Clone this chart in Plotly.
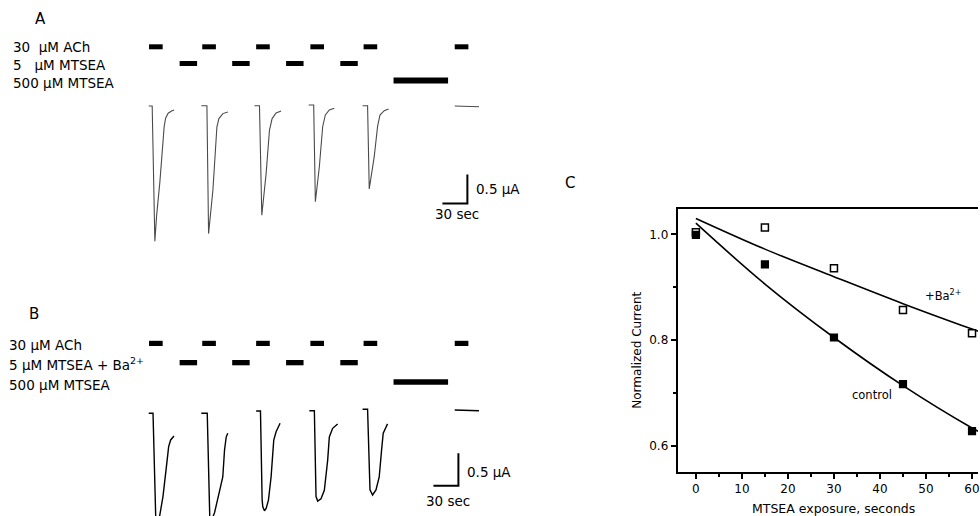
import plotly.graph_objects as go

W, H = 980, 516
FONT = "DejaVu Sans"

# ---------------- Panel C: normalized current vs MTSEA exposure ----------------
exposure_s = [0, 15, 30, 45, 60]
control_current = [0.999, 0.943, 0.805, 0.717, 0.628]
barium_current = [1.004, 1.013, 0.936, 0.857, 0.813]

# exponential fit curves, sampled along the exposure axis
fit_x = [0, 15, 30, 45, 60, 61.3]
control_fit = [1.021, 0.906, 0.805, 0.714, 0.634, 0.628]
barium_fit = [1.030, 0.972, 0.920, 0.869, 0.821, 0.817]

# ---------------- Panels A/B: stimulus protocol (s) ----------------
ach_starts = [-3.8, 60.2, 125.0, 190.2, 254.2, 363.8]
ach_dur = 16.4
mtsea5_starts = [33.0, 96.2, 161.0, 226.2]
mtsea5_dur = 21.0
mtsea500_start = 290.2
mtsea500_dur = 65.6

# ---------------- Panel A: ACh responses, control (µA) ----------------
A_onsets = [0.0, 65.8, 129.0, 194.2, 259.0]
A_times = [
    [-4.2, 0, 3.2, 5.3, 9.2, 13.2, 14.4, 16.1, 19.2, 23.3, 26.4],
    [-6.7, 0, 2.0, 7.2, 12.0, 14.4, 19.2, 25.2],
    [-6.0, 0, 2.8, 8.0, 12.0, 15.2, 20.0, 26.0],
    [-6.0, 0, 2.0, 6.8, 10.8, 14.0, 18.8, 24.8],
    [-6.0, 0, 2.0, 8.0, 12.0, 14.9, 20.0, 25.2],
]
A_currents = [
    [0, 0, -2.33, -1.895, -1.317, -0.58, -0.355, -0.211, -0.125, -0.086, -0.07],
    [0.005, 0.005, -2.20, -1.453, -0.362, -0.217, -0.131, -0.103],
    [0.005, 0.005, -1.884, -1.166, -0.419, -0.217, -0.121, -0.086],
    [0.017, 0.017, -1.65, -1.047, -0.357, -0.155, -0.069, -0.04],
    [0.005, 0.005, -1.431, -0.874, -0.357, -0.155, -0.081, -0.052],
]
A_tail_t = [363.8, 393.0]
A_tail_i = [0.0, -0.012]

# ---------------- Panel B: ACh responses, MTSEA applied with Ba2+ (µA) ----------------
B_onsets = [1.0, 66.2, 130.2, 195.0, 259.0]
B_times = [
    [-5.2, 0, 3.2, 5.4, 8.0, 12.0, 16.1, 18.8, 21.2, 25.2],
    [-7.2, 0, 3.0, 4.8, 8.8, 14.8, 18.7, 20.8, 22.8, 24.7],
    [-5.2, 0, 2.0, 2.8, 4.8, 6.8, 9.6, 12.8, 14.8, 16.0, 18.8, 23.6],
    [-6.0, 0, 2.0, 4.0, 8.0, 12.0, 16.0, 18.0, 22.0, 28.0],
    [-6.0, 0, 2.9, 6.0, 10.1, 14.0, 16.8, 18.8, 24.0],
]
B_currents = [
    [0, 0, -1.58, -1.644, -1.583, -1.282, -0.822, -0.515, -0.411, -0.350],
    [0, 0, -1.583, -1.666, -1.533, -1.183, -0.983, -0.566, -0.367, -0.308],
    [0.035, 0.035, -1.339, -1.442, -1.504, -1.467, -1.339, -0.979, -0.618, -0.413, -0.285, -0.154],
    [0.04, 0.04, -1.284, -1.354, -1.318, -1.187, -0.727, -0.364, -0.232, -0.165],
    [0.062, 0.062, -1.182, -1.261, -1.182, -0.983, -0.573, -0.308, -0.163],
]
B_tail_t = [363.8, 393.0]
B_tail_i = [0.051, 0.04]

# scale bars: 30 s and 0.5 µA
A_scale_t = [349.0, 379.0, 379.0]
A_scale_i = [-1.68, -1.68, -1.18]
B_scale_t = [338.2, 368.2, 368.2]
B_scale_i = [-1.117, -1.117, -0.617]


def px_x(px):
    return px / W


def px_y(py):
    return 1 - py / H


fig = go.Figure()

# ---- traces, panel A ----
for on, ts, cs in zip(A_onsets, A_times, A_currents):
    fig.add_trace(go.Scatter(x=[on + t for t in ts], y=cs, mode="lines",
                             line=dict(color="#4a4a4a", width=1.1),
                             xaxis="x2", yaxis="y2", showlegend=False, hoverinfo="skip"))
fig.add_trace(go.Scatter(x=A_tail_t, y=A_tail_i, mode="lines",
                         line=dict(color="#4a4a4a", width=1.1),
                         xaxis="x2", yaxis="y2", showlegend=False, hoverinfo="skip"))
fig.add_trace(go.Scatter(x=A_scale_t, y=A_scale_i, mode="lines",
                         line=dict(color="black", width=2),
                         xaxis="x2", yaxis="y2", showlegend=False, hoverinfo="skip"))

# ---- traces, panel B ----
for on, ts, cs in zip(B_onsets, B_times, B_currents):
    fig.add_trace(go.Scatter(x=[on + t for t in ts], y=cs, mode="lines",
                             line=dict(color="black", width=1.4),
                             xaxis="x2", yaxis="y3", showlegend=False, hoverinfo="skip"))
fig.add_trace(go.Scatter(x=B_tail_t, y=B_tail_i, mode="lines",
                         line=dict(color="black", width=1.4),
                         xaxis="x2", yaxis="y3", showlegend=False, hoverinfo="skip"))
fig.add_trace(go.Scatter(x=B_scale_t, y=B_scale_i, mode="lines",
                         line=dict(color="black", width=2),
                         xaxis="x2", yaxis="y3", showlegend=False, hoverinfo="skip"))

# ---- panel C ----
fig.add_trace(go.Scatter(x=fit_x, y=barium_fit, mode="lines", line=dict(color="black", width=1.6, shape="spline"),
                         showlegend=False, hoverinfo="skip"))
fig.add_trace(go.Scatter(x=fit_x, y=control_fit, mode="lines", line=dict(color="black", width=1.6, shape="spline"),
                         showlegend=False, hoverinfo="skip"))
fig.add_trace(go.Scatter(x=exposure_s, y=barium_current, mode="markers",
                         marker=dict(symbol="square", size=7, color="white", line=dict(color="black", width=1.5)),
                         showlegend=False, cliponaxis=False))
fig.add_trace(go.Scatter(x=exposure_s, y=control_current, mode="markers",
                         marker=dict(symbol="square", size=7, color="black", line=dict(color="black", width=1.2)),
                         showlegend=False, cliponaxis=False))

# ---- stimulus bars (pixel rows of each panel) ----
shapes = []
rows = {
    "A": {"ach": (44.3, 49.3), "m5": (61.0, 66.0), "m500": (77.5, 83.5)},
    "B": {"ach": (340.8, 346.0), "m5": (360.0, 365.3), "m500": (379.2, 384.8)},
}
for panel in ("A", "B"):
    r = rows[panel]
    for s in ach_starts:
        shapes.append(dict(type="rect", xref="x2", yref="paper", x0=s, x1=s + ach_dur,
                           y0=px_y(r["ach"][1]), y1=px_y(r["ach"][0]),
                           fillcolor="black", line=dict(width=0)))
    for s in mtsea5_starts:
        shapes.append(dict(type="rect", xref="x2", yref="paper", x0=s, x1=s + mtsea5_dur,
                           y0=px_y(r["m5"][1]), y1=px_y(r["m5"][0]),
                           fillcolor="black", line=dict(width=0)))
    shapes.append(dict(type="rect", xref="x2", yref="paper", x0=mtsea500_start,
                       x1=mtsea500_start + mtsea500_dur,
                       y0=px_y(r["m500"][1]), y1=px_y(r["m500"][0]),
                       fillcolor="black", line=dict(width=0)))

ann = []


def text(x, y, s, size, xanchor="left", angle=0, xref="paper", yref="paper"):
    ann.append(dict(x=x, y=y, xref=xref, yref=yref, text=s, showarrow=False,
                    xanchor=xanchor, yanchor="middle", textangle=angle,
                    font=dict(family=FONT, size=size, color="black")))


NB = "\u00a0"
# panel letters
text(px_x(33), px_y(19), "A", 15)
text(px_x(27), px_y(314), "B", 15)
text(px_x(564), px_y(183), "C", 15)
# protocol labels, panel A
text(px_x(11), px_y(47), "30" + NB + " µM ACh", 13.5)
text(px_x(11), px_y(64.5), "5" + NB + NB + " µM MTSEA", 13.5)
text(px_x(11), px_y(83), "500 µM MTSEA", 13.5)
# protocol labels, panel B
text(px_x(7), px_y(344.5), "30 µM ACh", 13.5)
text(px_x(7), px_y(364), "5 µM MTSEA + Ba<sup>2+</sup>", 13.5)
text(px_x(7), px_y(385), "500 µM MTSEA", 13.5)
# scale bar labels
text(px_x(475), px_y(188.5), "0.5 µA", 13.5)
text(px_x(458), px_y(214), "30 sec", 13.5, xanchor="center")
text(px_x(466), px_y(472), "0.5 µA", 13.5)
text(px_x(449), px_y(500.5), "30 sec", 13.5, xanchor="center")
# panel C labels
text(53.8, 0.884, "+Ba<sup>2+</sup>", 11.5, xanchor="center", xref="x", yref="y")
text(38.2, 0.696, "control", 11.5, xanchor="center", xref="x", yref="y")
text(px_x(638), px_y(350), "Normalized Current", 12, xanchor="center", angle=-90)
text(px_x(835), px_y(508), "MTSEA exposure, seconds", 12.5, xanchor="center")

axis_common = dict(showgrid=False, zeroline=False, showline=True, linecolor="black", linewidth=1.8,
                   ticks="outside", ticklen=5, tickwidth=1.5, tickcolor="black",
                   ticklabeloverflow="allow",
                   tickfont=dict(family=FONT, size=12, color="black"))

fig.update_layout(
    width=W, height=H,
    margin=dict(l=0, r=0, t=0, b=0),
    paper_bgcolor="white", plot_bgcolor="white",
    showlegend=False,
    shapes=shapes,
    annotations=ann,
    xaxis=dict(domain=[px_x(679), 1.0], range=[-3.97, 61.3], tick0=0, dtick=10, mirror=True,
               minor=dict(dtick=5, ticks="outside", ticklen=3, tickwidth=1.5, tickcolor="black"),
               **axis_common),
    yaxis=dict(domain=[px_y(472), px_y(209)], range=[0.5509, 1.0478], tick0=0.6, dtick=0.2,
               tickformat=".1f", mirror=False,
               minor=dict(dtick=0.1, ticks="outside", ticklen=3, tickwidth=1.5, tickcolor="black"),
               **axis_common),
    xaxis2=dict(domain=[0, 0.6], range=[-183.0, 522.6], anchor="y2", visible=False),
    yaxis2=dict(domain=[px_y(250), px_y(90)], range=[-2.4828, 0.2759], anchor="x2", visible=False),
    yaxis3=dict(domain=[0, px_y(395)], range=[-1.5849, 0.2824], anchor="x2", visible=False),
)

fig.write_html("out.html")
